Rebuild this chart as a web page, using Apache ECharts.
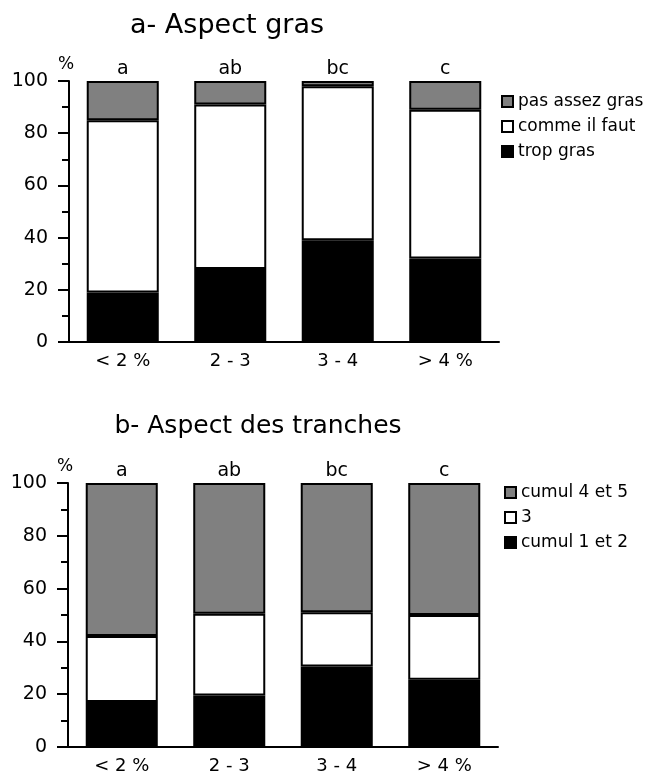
<!DOCTYPE html>
<html><head><meta charset="utf-8">
<script src="https://cdn.jsdelivr.net/npm/echarts@6/dist/echarts.min.js"></script>
<style>html,body{margin:0;padding:0;background:#fff}#c{width:656px;height:776px}</style>
</head><body><div id="c"></div>
<script>
const categories = ['< 2 %', '2 - 3', '3 - 4', '> 4 %'];
const sigLetters = ['a', 'ab', 'bc', 'c'];
const yTicks = [0, 20, 40, 60, 80, 100];
// a- Aspect gras
const tropGras = [19, 28, 39, 32];
const commeIlFaut = [66, 63, 59, 57];
const pasAssezGras = [15, 9, 2, 11];
// b- Aspect des tranches
const cumul12 = [17, 19.5, 30.5, 25.5];
const trois = [25, 31, 20.5, 24.5];
const cumul45 = [58, 49.5, 49, 50];

const FONT = 'DejaVu Sans';
const chart = echarts.init(document.getElementById('c'));
const BLACK = '#000', WHITE = '#fff', GRAY = '#808080';

function yAx(gi) {
  return {
    type: 'value', gridIndex: gi, min: 0, max: 100, interval: 20,
    name: '%', nameLocation: 'end', nameGap: 8,
    nameTextStyle: { color: BLACK, fontFamily: FONT, fontSize: 17, padding: [0, 6, 0, 0] },
    axisLine: { show: true, lineStyle: { color: BLACK, width: 2 } },
    axisTick: { show: true, length: 11, lineStyle: { color: BLACK, width: 2 } },
    minorTick: { show: true, splitNumber: 2, length: 7, lineStyle: { color: BLACK, width: 2 } },
    splitLine: { show: false },
    axisLabel: { color: BLACK, fontFamily: FONT, fontSize: 19, margin: 21,
      formatter: v => yTicks.includes(v) ? String(v) : '' }
  };
}
function xAx(gi) {
  return {
    type: 'category', gridIndex: gi, data: categories,
    axisLine: { show: true, lineStyle: { color: BLACK, width: 2 } },
    axisTick: { show: false },
    axisLabel: { color: BLACK, fontFamily: FONT, fontSize: 18, margin: 10 }
  };
}
function bar(name, data, color, gi, top) {
  const s = {
    name, type: 'bar', data, stack: 's' + gi, xAxisIndex: gi, yAxisIndex: gi,
    barWidth: '67%',
    itemStyle: { color, borderColor: BLACK, borderWidth: 2 },
    emphasis: { disabled: true }
  };
  if (top) {
    s.label = { show: true, position: 'top', distance: 2, color: BLACK, fontFamily: FONT, fontSize: 19,
      formatter: p => sigLetters[p.dataIndex] };
  }
  return s;
}
const legendCommon = {
  orient: 'vertical', itemWidth: 11, itemHeight: 11, itemGap: 8, icon: 'rect',
  textStyle: { color: BLACK, fontFamily: FONT, fontSize: 17, padding: [0, 0, 0, 0] }
};
chart.setOption({
  animation: false,
  title: [
    { text: 'a- Aspect gras', left: 222, top: 7, textAlign: 'center',
      textStyle: { fontFamily: FONT, fontSize: 27, fontWeight: 'normal', color: BLACK } },
    { text: 'b- Aspect des tranches', left: 253, top: 409, textAlign: 'center',
      textStyle: { fontFamily: FONT, fontSize: 25, fontWeight: 'normal', color: BLACK } }
  ],
  legend: [
    Object.assign({ left: 496, top: 88, data: ['pas assez gras', 'comme il faut', 'trop gras'] }, legendCommon),
    Object.assign({ left: 499, top: 479, data: ['cumul 4 et 5', '3', 'cumul 1 et 2'] }, legendCommon)
  ],
  grid: [
    { left: 69, width: 430, top: 81, height: 261 },
    { left: 68, width: 430, top: 483, height: 264 }
  ],
  xAxis: [xAx(0), xAx(1)],
  yAxis: [yAx(0), yAx(1)],
  series: [
    bar('trop gras', tropGras, BLACK, 0),
    bar('comme il faut', commeIlFaut, WHITE, 0),
    bar('pas assez gras', pasAssezGras, GRAY, 0, true),
    bar('cumul 1 et 2', cumul12, BLACK, 1),
    bar('3', trois, WHITE, 1),
    bar('cumul 4 et 5', cumul45, GRAY, 1, true)
  ]
});
</script></body></html>
